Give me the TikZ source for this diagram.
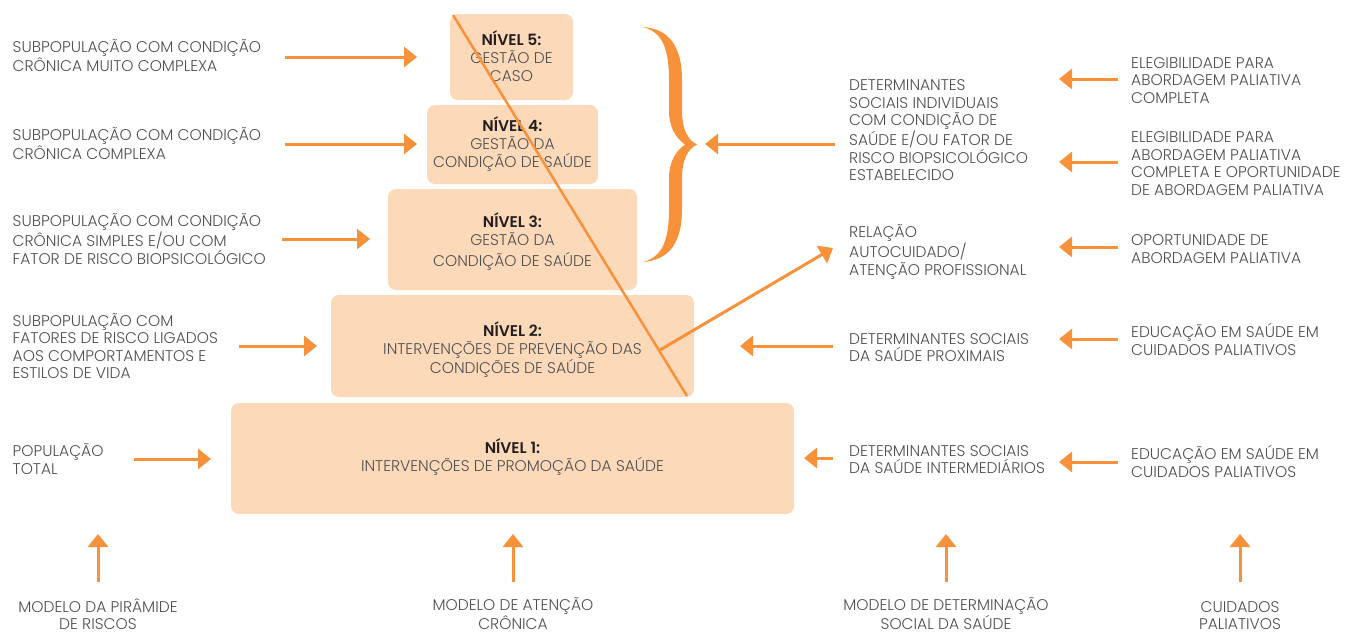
\documentclass[tikz,border=0pt]{standalone}
\usepackage{fontspec}
\setmainfont{Poppins}[UprightFont=* Light, BoldFont=* SemiBold]
\usetikzlibrary{arrows.meta}
\definecolor{orng}{HTML}{F7923A}
\definecolor{peach}{HTML}{FCD9B9}
\definecolor{txt}{HTML}{505050}
\definecolor{dark}{HTML}{231F20}
\begin{document}
\begin{tikzpicture}[x=1pt,y=-1pt,
  lbl/.style={anchor=base west, align=left, inner sep=0pt, text=txt, font=\fontsize{15.5}{17.5}\selectfont},
  clbl/.style={anchor=base, align=center, inner sep=0pt, text=txt, font=\fontsize{15.5}{17.5}\selectfont},
  lvlbox/.style={fill=peach, rounded corners=8pt, inner sep=0pt},
  lvltxt/.style={anchor=base, align=center, inner sep=0pt, text=txt, font=\fontsize{15.5}{18}\selectfont},
  arr/.style={draw=orng, line width=3pt, -{Triangle[width=20pt,length=13pt]}},
]
\useasboundingbox (0,0) rectangle (1351,632);

% pyramid levels
\node[lvlbox, minimum width=563pt, minimum height=111pt] (n1) at (512.5,458.5) {};
\node[lvlbox, minimum width=363pt, minimum height=102pt] (n2) at (512.5,346) {};
\node[lvlbox, minimum width=249pt, minimum height=101pt] (n3) at (512.5,239.5) {};
\node[lvlbox, minimum width=171pt, minimum height=79pt] (n4) at (512.5,144.5) {};
\node[lvlbox, minimum width=123pt, minimum height=86pt] (n5) at (511.5,57) {};

\node[lvltxt] (t1) at (512.5,471.5)
  {{\color{dark}\bfseries NÍVEL 1:}\\INTERVENÇÕES DE PROMOÇÃO DA SAÚDE};
\node[lvltxt] (t2) at (512.5,373.5)
  {{\color{dark}\bfseries NÍVEL 2:}\\INTERVENÇÕES DE PREVENÇÃO DAS\\CONDIÇÕES DE SAÚDE};
\node[lvltxt] (t3) at (512.5,266.5)
  {{\color{dark}\bfseries NÍVEL 3:}\\GESTÃO DA\\[3pt]CONDIÇÃO DE SAÚDE};
\node[lvltxt] (t4) at (512.5,167.5)
  {{\color{dark}\bfseries NÍVEL 4:}\\GESTÃO DA\\CONDIÇÃO DE SAÚDE};
\node[lvltxt] (t5) at (511.5,81.5)
  {{\color{dark}\bfseries NÍVEL 5:}\\GESTÃO DE\\CASO};

% diagonal line and arrow
\coordinate (d1) at (453,15);
\coordinate (d2) at (687,396);
\draw[orng, line width=2.5pt] (d1) -- (d2);
\coordinate (r0) at (660,350);
\coordinate (r1) at (833,248);
\draw[arr] (r0) -- (r1);

% brace
\fill[orng] (643,27) .. controls (669,29) and (682,46) .. (682,80) -- (682,110)
  .. controls (682,130) and (688,140) .. (697,144.5)
  .. controls (688,149) and (682,159) .. (682,179) -- (682,209)
  .. controls (682,243) and (669,260) .. (643,262)
  .. controls (662,257) and (669,241) .. (669,209) -- (669,179)
  .. controls (669,162) and (675,152) .. (685,144.5)
  .. controls (675,137) and (669,127) .. (669,110) -- (669,80)
  .. controls (669,48) and (662,32) .. (643,27) -- cycle;

% left labels
\node[lbl] (s5) at (12.5,71.5) {SUBPOPULAÇÃO COM CONDIÇÃO\\CRÔNICA MUITO COMPLEXA};
\node[lbl] (s4) at (12.5,159) {SUBPOPULAÇÃO COM CONDIÇÃO\\CRÔNICA COMPLEXA};
\node[lbl] (s3) at (12.5,264) {SUBPOPULAÇÃO COM CONDIÇÃO\\CRÔNICA SIMPLES E/OU COM\\FATOR DE RISCO BIOPSICOLÓGICO};
\node[lbl] (s2) at (12.5,378.5) {SUBPOPULAÇÃO COM\\FATORES DE RISCO LIGADOS\\AOS COMPORTAMENTOS E\\ESTILOS DE VIDA};
\node[lbl] (s1) at (12.5,474) {POPULAÇÃO\\TOTAL};

\coordinate (a5t) at (285,57);  \coordinate (a5h) at (417,57);
\coordinate (a4t) at (285,144); \coordinate (a4h) at (417,144);
\coordinate (a3t) at (282,239); \coordinate (a3h) at (370,239);
\coordinate (a2t) at (239,346); \coordinate (a2h) at (317,346);
\coordinate (a1t) at (134,459); \coordinate (a1h) at (211,459);
\draw[arr] (a5t) -- (a5h);
\draw[arr] (a4t) -- (a4h);
\draw[arr] (a3t) -- (a3h);
\draw[arr] (a2t) -- (a2h);
\draw[arr] (a1t) -- (a1h);

% middle right labels
\node[lbl] (dind) at (849,180.5) {DETERMINANTES\\SOCIAIS INDIVIDUAIS\\COM CONDIÇÃO DE\\SAÚDE E/OU FATOR DE\\RISCO BIOPSICOLÓGICO\\ESTABELECIDO};
\node[lbl] (rel) at (849,275) {RELAÇÃO\\AUTOCUIDADO/\\ATENÇÃO PROFISSIONAL};
\node[lbl] (dprox) at (849,361.5) {DETERMINANTES SOCIAIS\\DA SAÚDE PROXIMAIS};
\node[lbl] (dint) at (849,473.5) {DETERMINANTES SOCIAIS\\DA SAÚDE INTERMEDIÁRIOS};

\coordinate (b1t) at (835,144); \coordinate (b1h) at (705,144);
\coordinate (b2t) at (833,346); \coordinate (b2h) at (740,346);
\coordinate (b3t) at (833,458); \coordinate (b3h) at (804,458);
\draw[arr] (b1t) -- (b1h);
\draw[arr] (b2t) -- (b2h);
\draw[arr] (b3t) -- (b3h);

% far right labels
\node[lbl] (p1) at (1131,103) {ELEGIBILIDADE PARA\\ABORDAGEM PALIATIVA\\COMPLETA};
\node[lbl] (p2) at (1131,195) {ELEGIBILIDADE PARA\\ABORDAGEM PALIATIVA\\COMPLETA E OPORTUNIDADE\\DE ABORDAGEM PALIATIVA};
\node[lbl] (p3) at (1131,263) {OPORTUNIDADE DE\\ABORDAGEM PALIATIVA};
\node[lbl] (p4) at (1131,355) {EDUCAÇÃO EM SAÚDE EM\\CUIDADOS PALIATIVOS};
\node[lbl] (p5) at (1131,477) {EDUCAÇÃO EM SAÚDE EM\\CUIDADOS PALIATIVOS};

\coordinate (c1t) at (1118,79);  \coordinate (c1h) at (1059,79);
\coordinate (c2t) at (1118,162); \coordinate (c2h) at (1059,162);
\coordinate (c3t) at (1118,247); \coordinate (c3h) at (1059,247);
\coordinate (c4t) at (1118,339); \coordinate (c4h) at (1059,339);
\coordinate (c5t) at (1118,462); \coordinate (c5h) at (1059,462);
\draw[arr] (c1t) -- (c1h);
\draw[arr] (c2t) -- (c2h);
\draw[arr] (c3t) -- (c3h);
\draw[arr] (c4t) -- (c4h);
\draw[arr] (c5t) -- (c5h);

% bottom labels and arrows
\node[clbl] (m1) at (98,629.5) {MODELO DA PIRÂMIDE\\DE RISCOS};
\node[clbl] (m2) at (513,629.5) {MODELO DE ATENÇÃO\\CRÔNICA};
\node[clbl] (m3) at (946,629.5) {MODELO DE DETERMINAÇÃO\\SOCIAL DA SAÚDE};
\node[clbl] (m4) at (1240,629.5) {CUIDADOS\\PALIATIVOS};

\coordinate (u1t) at (98,582);   \coordinate (u1h) at (98,534);
\coordinate (u2t) at (513,582);  \coordinate (u2h) at (513,534);
\coordinate (u3t) at (946,582);  \coordinate (u3h) at (946,534);
\coordinate (u4t) at (1240,582); \coordinate (u4h) at (1240,534);
\draw[arr] (u1t) -- (u1h);
\draw[arr] (u2t) -- (u2h);
\draw[arr] (u3t) -- (u3h);
\draw[arr] (u4t) -- (u4h);
\end{tikzpicture}
\end{document}
